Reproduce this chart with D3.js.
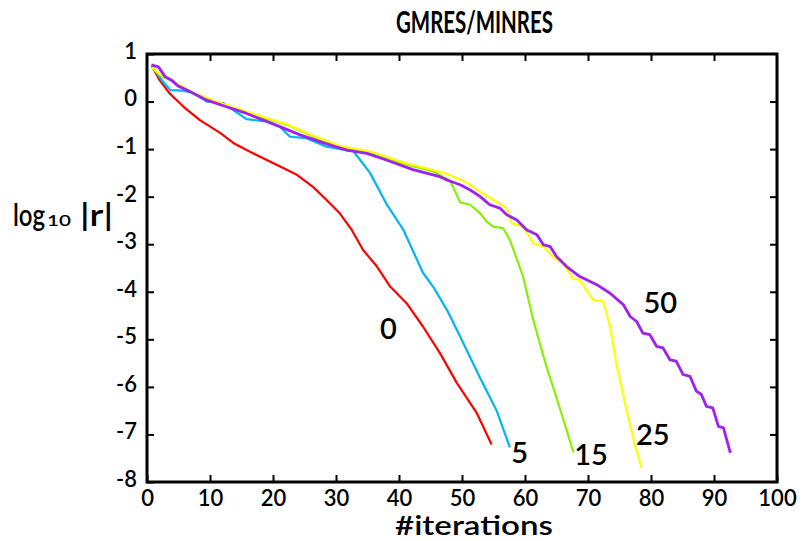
<!DOCTYPE html>
<html>
<head>
<meta charset="utf-8">
<script src="https://cdn.jsdelivr.net/npm/d3@7"></script>
<style>
  body { margin: 0; background: #fff; }
  text { font-family: Lato, "DejaVu Sans", sans-serif; fill: #000; font-weight: 600; }
</style>
</head>
<body>
<div id="chart"></div>
<script>
// residual curves, [iteration, log10|r|]
var res0 = [[0.8,0.75],[2,0.45],[3.6,0.17],[5.8,-0.11],[8.4,-0.39],[11.6,-0.66],[13.7,-0.87],[15.8,-1.02],
  [20,-1.29],[23.8,-1.54],[26.4,-1.8],[28.5,-2.07],[30.6,-2.35],[32.5,-2.7],[34.3,-3.12],[36.5,-3.47],
  [38.6,-3.89],[41.2,-4.24],[43.8,-4.73],[46.5,-5.29],[49.2,-5.92],[52.3,-6.54],[54.7,-7.21]];
var res5 = [[0.8,0.75],[2.5,0.42],[3.7,0.24],[5.7,0.23],[7.3,0.18],[9.5,0.0],[12.1,-0.03],[13.7,-0.18],
  [15.8,-0.37],[19,-0.42],[21.1,-0.53],[22.7,-0.74],[25.3,-0.77],[28.5,-0.95],[32.8,-1.05],[35.4,-1.5],
  [38,-2.15],[40.7,-2.7],[43.8,-3.6],[45.4,-3.89],[47.6,-4.38],[49.7,-4.94],[52.9,-5.82],[55.5,-6.5],[57.6,-7.27]];
var res15 = [[0.8,0.72],[2,0.56],[4.1,0.42],[7.3,0.18],[11,-0.02],[14.8,-0.18],[17.9,-0.32],[22.2,-0.49],
  [26.4,-0.74],[30.6,-0.95],[35.9,-1.09],[41.2,-1.33],[45.4,-1.47],[48.1,-1.66],[49.7,-2.12],[51.3,-2.17],
  [52.9,-2.35],[53.9,-2.52],[54.9,-2.63],[56.5,-2.66],[57.6,-2.91],[59.7,-3.68],[61.3,-4.59],[63.4,-5.57],
  [65.6,-6.48],[67.7,-7.38]];
var res25 = [[0.8,0.72],[2,0.58],[4.1,0.43],[7.3,0.19],[11,0.0],[14.8,-0.17],[17.9,-0.3],[22.2,-0.48],
  [26.4,-0.72],[30.6,-0.93],[35.9,-1.07],[41.2,-1.3],[45.4,-1.44],[47.6,-1.52],[50.7,-1.7],[53.4,-1.94],
  [56,-2.15],[57.1,-2.24],[57.9,-2.56],[59.7,-2.63],[61.3,-2.98],[62.9,-3.05],[64.4,-3.26],[66,-3.4],
  [67.7,-3.73],[68.7,-3.75],[70.8,-4.17],[72.4,-4.2],[73.5,-4.73],[74.6,-5.57],[76.1,-6.48],[77.5,-7.25],[78.5,-7.7]];
var res50 = [[0.7,0.77],[1.8,0.73],[2.9,0.52],[3.9,0.45],[4.9,0.33],[6.8,0.21],[9.5,0.03],[12.6,-0.11],
  [15.8,-0.25],[20,-0.47],[24.3,-0.7],[28.5,-0.89],[31.7,-1.02],[34.9,-1.09],[38,-1.23],[42.2,-1.43],
  [46.5,-1.58],[47.6,-1.65],[49.7,-1.75],[51.3,-1.86],[52.9,-2.0],[54.4,-2.17],[56,-2.24],[57.1,-2.38],
  [58.7,-2.49],[60.3,-2.7],[61.9,-2.8],[62.9,-3.01],[64,-3.05],[65,-3.26],[66.6,-3.47],[68.7,-3.68],
  [71.4,-3.85],[73.5,-4.03],[75.6,-4.27],[76.7,-4.52],[77.7,-4.62],[78.7,-4.87],[79.8,-4.9],[80.9,-5.15],
  [81.9,-5.18],[83,-5.43],[84,-5.46],[85.1,-5.74],[86.2,-5.78],[87.2,-6.09],[88,-6.16],[88.8,-6.41],
  [89.8,-6.44],[90.7,-6.83],[91.5,-6.86],[92.6,-7.39]];

var seriesNames = ["0", "5", "15", "25", "50"];
var seriesData = [res0, res5, res15, res25, res50];
var seriesColors = ["#ff0000", "#00b4f5", "#88f000", "#ffff00", "#a020f0"];
// where each curve's label sits [iteration, log10|r|]
var labelPos = [[37,-5.0], [57.8,-7.6], [67.8,-7.65], [77.6,-7.22], [78.8,-4.45]];

var xTicks = [0,10,20,30,40,50,60,70,80,90,100];
var yTicks = [1,0,-1,-2,-3,-4,-5,-6,-7,-8];

var width = 809, height = 541;
var margin = {left: 147, right: 32, top: 54, bottom: 59};

var svg = d3.select("#chart").append("svg")
    .attr("width", width)
    .attr("height", height);

var x = d3.scaleLinear().domain([0, 100]).range([margin.left, width - margin.right]);
var y = d3.scaleLinear().domain([-8, 1]).range([height - margin.bottom, margin.top]);

var line = d3.line()
    .x(function(d) { return x(d[0]); })
    .y(function(d) { return y(d[1]); });

seriesData.forEach(function(data, i) {
  svg.append("path")
    .datum(data)
    .attr("fill", "none")
    .attr("stroke", seriesColors[i])
    .attr("stroke-width", i == 4 ? 2.8 : 2.2)
    .attr("stroke-linejoin", "round")
    .attr("d", line);
});

svg.selectAll(".slabel")
  .data(seriesNames)
  .enter().append("text")
    .attr("class", "slabel")
    .attr("x", function(d, i) { return x(labelPos[i][0]); })
    .attr("y", function(d, i) { return y(labelPos[i][1]); })
    .attr("font-size", 29)
    .text(function(d) { return d; });

var tickLen = 7;
svg.append("g")
    .attr("transform", "translate(0," + y(-8) + ")")
    .call(d3.axisBottom(x).tickValues(xTicks).tickSize(-tickLen).tickPadding(tickLen + 1).tickFormat(d3.format("d")))
    .call(function(g) { g.select(".domain").remove(); g.selectAll("text").attr("font-size", 22).style("font-family", "Lato").style("font-weight", 600); });

svg.append("g")
    .attr("transform", "translate(" + x(0) + ",0)")
    .call(d3.axisLeft(y).tickValues(yTicks).tickSize(-tickLen).tickPadding(tickLen + 3).tickFormat(function(d) { return d < 0 ? "-" + (-d) : d; }))
    .call(function(g) { g.select(".domain").remove(); g.selectAll("text").attr("font-size", 22).attr("dy", "0.2em").style("font-family", "Lato").style("font-weight", 600); });

svg.append("g")
    .attr("transform", "translate(0," + y(1) + ")")
    .call(d3.axisTop(x).tickValues(xTicks.slice(1, -1)).tickSize(-tickLen).tickFormat(""))
    .call(function(g) { g.select(".domain").remove(); });

svg.append("g")
    .attr("transform", "translate(" + x(100) + ",0)")
    .call(d3.axisRight(y).tickValues(yTicks.slice(1, -1)).tickSize(-tickLen).tickFormat(""))
    .call(function(g) { g.select(".domain").remove(); });

svg.selectAll(".tick line").attr("stroke", "#000").attr("stroke-width", 2);

svg.append("rect")
    .attr("x", x(0)).attr("y", y(1))
    .attr("width", x(100) - x(0)).attr("height", y(-8) - y(1))
    .attr("fill", "none").attr("stroke", "#000").attr("stroke-width", 3);

// text squeezed/stretched sideways to the width it has in the picture
function fitText(str, left, baseline, size, w) {
  var t = svg.append("text").attr("font-size", size).text(str);
  var len = t.node().getComputedTextLength();
  t.attr("transform", "translate(" + left + "," + baseline + ") scale(" + (w / len) + ",1)");
  return t;
}

fitText("GMRES/MINRES", 396, 33, 30, 156).style("font-weight", 700);
fitText("#iterations", 395, 535, 27, 158);
fitText("log", 13, 226, 31, 32);
fitText("10", 47, 226, 16, 24);
fitText("|r|", 80, 226, 31, 33);
</script>
</body>
</html>
